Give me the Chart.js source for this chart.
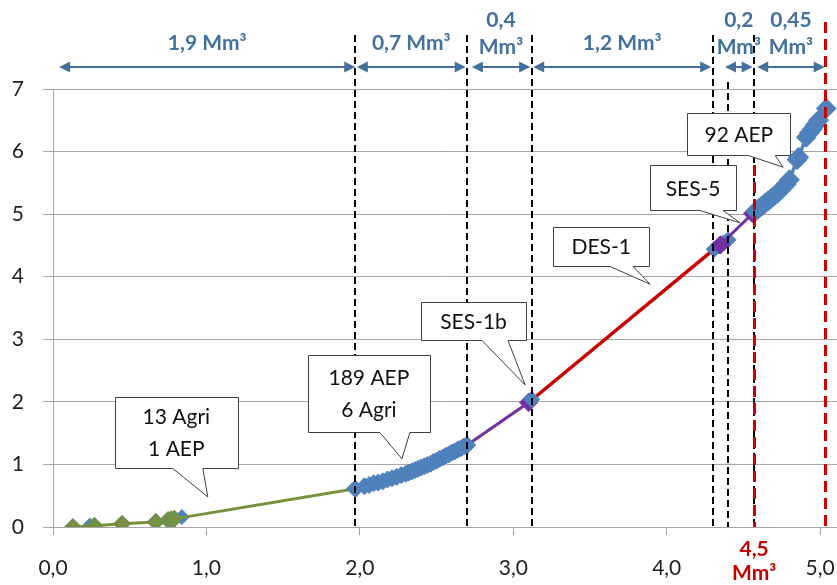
<!DOCTYPE html>
<html>
<head>
<meta charset="utf-8">
<script src="https://cdn.jsdelivr.net/npm/chart.js@4.4.1/dist/chart.umd.min.js"></script>
<style>
  html, body { margin: 0; padding: 0; background: #fff; }
  #wrap { width: 837px; height: 585px; }
</style>
</head>
<body>
<div id="wrap"><canvas id="myChart" width="837" height="585"></canvas></div>
<script>
// x = cumulative volume (Mm³), y = value
const agriX = [0.13, 0.27, 0.45, 0.67, 0.75, 0.77, 0.79, 1.97];
const agriY = [0.00, 0.02, 0.05, 0.08, 0.11, 0.12, 0.13, 0.61];

const aepLowX = [0.24, 0.84];
const aepLowY = [0.02, 0.16];

const aepMidX = [1.97, 2.03, 2.06, 2.09, 2.12, 2.15, 2.18, 2.21, 2.24, 2.27, 2.30, 2.32, 2.34, 2.36, 2.38, 2.40,
                 2.42, 2.44, 2.46, 2.48, 2.50, 2.52, 2.54, 2.56, 2.58, 2.60, 2.62, 2.64, 2.66, 2.68, 2.70];
const aepMidY = [0.61, 0.65, 0.67, 0.70, 0.71, 0.73, 0.76, 0.78, 0.80, 0.83, 0.85, 0.87, 0.89, 0.91, 0.93, 0.95,
                 0.97, 0.99, 1.01, 1.04, 1.06, 1.09, 1.11, 1.14, 1.16, 1.19, 1.21, 1.24, 1.26, 1.29, 1.31];

const aepJoinX = [3.12];
const aepJoinY = [2.04];
const aepSes5X = [4.31, 4.34, 4.37, 4.40];
const aepSes5Y = [4.44, 4.49, 4.54, 4.59];

const aepHighX = [4.58, 4.60, 4.62, 4.64, 4.66, 4.68, 4.70, 4.72, 4.74, 4.76, 4.78, 4.80, 4.85, 4.86,
                  4.91, 4.93, 4.95, 4.97, 4.99, 5.04];
const aepHighY = [5.05, 5.09, 5.13, 5.17, 5.21, 5.25, 5.29, 5.33, 5.38, 5.43, 5.48, 5.55, 5.87, 5.91,
                  6.23, 6.30, 6.36, 6.43, 6.50, 6.69];

const sesLowX = [2.70, 3.10];
const sesLowY = [1.31, 1.99];
const sesHighX = [4.30, 4.35, 4.56];
const sesHighY = [4.42, 4.51, 5.01];

const desX = [3.12, 4.30];
const desY = [2.03, 4.42];

const xTicks = [0, 1, 2, 3, 4, 5];
const yTicks = [0, 1, 2, 3, 4, 5, 6, 7];

// zone boundaries (x) and how far above the plot top each dashed line starts (px)
const blackCuts = [[1.97, -54], [2.70, -54], [3.12, -54], [4.30, -54], [4.40, -7], [4.57, -54]];
const redCuts = [[4.57, 76], [5.03, -67]];

const spans = [
  { from: 0.04, to: 1.97, lines: ['1,9 Mm³'] },
  { from: 1.98, to: 2.69, lines: ['0,7 Mm³'] },
  { from: 2.73, to: 3.11, lines: ['0,4', 'Mm³'] },
  { from: 3.13, to: 4.29, lines: ['1,2 Mm³'] },
  { from: 4.38, to: 4.56, lines: ['0,2', 'Mm³'] },
  { from: 4.59, to: 5.03, lines: ['0,45', 'Mm³'] }
];

const callouts = [
  { lines: ['13 Agri', '1 AEP'], x: 0.804, y: 1.51, w: 123, h: 71, base: [-3.5, 26.5], tipX: 1.009, tipY: 0.48 },
  { lines: ['189 AEP', '6 Agri'], x: 2.059, y: 2.13, w: 122, h: 77, base: [11, 41], tipX: 2.274, tipY: 1.09 },
  { lines: ['SES-1b'], x: 2.741, y: 3.29, w: 105, h: 38, base: [8.5, 34.5], tipX: 3.077, tipY: 2.27 },
  { lines: ['DES-1'], x: 3.573, y: 4.48, w: 96, h: 39, base: [9, 32], tipX: 3.892, tipY: 3.88 },
  { lines: ['SES-5'], x: 4.172, y: 5.42, w: 86, h: 45, base: [7, 30], tipX: 4.479, tipY: 4.86 },
  { lines: ['92 AEP'], x: 4.470, y: 6.28, w: 103, h: 42, base: [9.5, 36.5], tipX: 4.759, tipY: 5.75 }
];

const GREEN = '#77933C', BLUE = '#4F81BD', PURPLE = '#7030A0', RED = '#CC0000';
const DIM = '#41719C';

const toPoints = (xs, ys) => xs.map((x, i) => ({ x: x, y: ys[i] }));

Chart.defaults.font.family = 'Lato';

const overlay = {
  id: 'overlay',
  afterDraw(chart) {
    const ctx = chart.ctx;
    const sx = chart.scales.x, sy = chart.scales.y;
    const top = chart.chartArea.top, bottom = chart.chartArea.bottom;
    ctx.save();

    // vertical zone boundaries
    ctx.lineWidth = 2;
    ctx.strokeStyle = '#000';
    ctx.setLineDash([7, 4]);
    blackCuts.forEach(([v, off]) => {
      const px = Math.round(sx.getPixelForValue(v));
      ctx.beginPath();
      ctx.moveTo(px, top + off);
      ctx.lineTo(px, bottom);
      ctx.stroke();
    });
    ctx.lineWidth = 3;
    ctx.strokeStyle = RED;
    ctx.setLineDash([11, 6]);
    redCuts.forEach(([v, off]) => {
      const px = Math.round(sx.getPixelForValue(v)) + 0.5;
      ctx.beginPath();
      ctx.moveTo(px, top + off);
      ctx.lineTo(px, bottom);
      ctx.stroke();
    });
    ctx.setLineDash([]);

    // callout boxes
    ctx.font = '21px Lato';
    ctx.textAlign = 'center';
    ctx.textBaseline = 'middle';
    callouts.forEach(c => {
      const cx = sx.getPixelForValue(c.x), cy = sy.getPixelForValue(c.y);
      const l = Math.round(cx - c.w / 2) + 0.5, t = Math.round(cy - c.h / 2) + 0.5;
      const r = l + c.w, b = t + c.h;
      const tx = sx.getPixelForValue(c.tipX), ty = sy.getPixelForValue(c.tipY);
      ctx.beginPath();
      ctx.moveTo(l, t);
      ctx.lineTo(r, t);
      ctx.lineTo(r, b);
      ctx.lineTo(cx + c.base[1], b);
      ctx.lineTo(tx, ty);
      ctx.lineTo(cx + c.base[0], b);
      ctx.lineTo(l, b);
      ctx.closePath();
      ctx.fillStyle = '#fff';
      ctx.fill();
      ctx.lineWidth = 1;
      ctx.strokeStyle = '#404040';
      ctx.stroke();
      ctx.fillStyle = '#111';
      if (c.lines.length === 1) {
        ctx.fillText(c.lines[0], cx, cy + 1);
      } else {
        ctx.fillText(c.lines[0], cx, cy - 15);
        ctx.fillText(c.lines[1], cx, cy + 17);
      }
    });

    // volume spans above the plot
    const ay = top - 22;
    ctx.strokeStyle = DIM;
    ctx.fillStyle = DIM;
    ctx.lineWidth = 2;
    ctx.font = 'bold 21px Lato';
    spans.forEach(s => {
      const x1 = sx.getPixelForValue(s.from), x2 = sx.getPixelForValue(s.to);
      ctx.beginPath();
      ctx.moveTo(x1 + 8, ay);
      ctx.lineTo(x2 - 8, ay);
      ctx.stroke();
      ctx.beginPath();
      ctx.moveTo(x1, ay); ctx.lineTo(x1 + 11, ay - 5.5); ctx.lineTo(x1 + 11, ay + 5.5); ctx.closePath();
      ctx.moveTo(x2, ay); ctx.lineTo(x2 - 11, ay - 5.5); ctx.lineTo(x2 - 11, ay + 5.5); ctx.closePath();
      ctx.fill();
      const mid = (x1 + x2) / 2;
      if (s.lines.length === 1) {
        ctx.fillText(s.lines[0], mid, top - 46);
      } else {
        ctx.fillText(s.lines[0], mid, top - 69);
        ctx.fillText(s.lines[1], mid, top - 42);
      }
    });

    // 4,5 Mm³ marker under the axis
    const rx = sx.getPixelForValue(redCuts[0][0]);
    ctx.fillStyle = '#C00000';
    ctx.fillText('4,5', rx, bottom + 22);
    ctx.fillText('Mm³', rx, bottom + 46);

    ctx.restore();
  }
};

const diamond = (data, radius, order) => ({
  label: 'AEP', data: data, showLine: false, order: order,
  backgroundColor: BLUE, borderColor: BLUE, pointStyle: 'rectRot', pointRadius: radius
});

const ctx = document.getElementById('myChart').getContext('2d');
const chart = new Chart(ctx, {
  type: 'scatter',
  data: {
    datasets: [
      {
        label: 'AEP', data: toPoints(aepHighX, aepHighY), showLine: true, order: 0,
        borderColor: BLUE, borderWidth: 3.5, backgroundColor: BLUE,
        pointStyle: 'rectRot', pointRadius: 8
      },
      diamond(toPoints(aepJoinX, aepJoinY), 8, 0),
      {
        label: 'SES', data: toPoints(sesHighX, sesHighY), showLine: true, order: 1,
        borderColor: PURPLE, borderWidth: 3, backgroundColor: PURPLE,
        pointStyle: 'rectRot', pointRadius: [0, 7.5, 7.5], pointBorderColor: PURPLE
      },
      diamond(toPoints(aepMidX, aepMidY), 8.5, 2),
      diamond(toPoints(aepSes5X, aepSes5Y), 8, 2),
      {
        label: 'SES', data: toPoints(sesLowX, sesLowY), showLine: true, order: 3,
        borderColor: PURPLE, borderWidth: 3, backgroundColor: PURPLE,
        pointStyle: 'rectRot', pointRadius: [0, 7.5], pointBorderColor: PURPLE
      },
      {
        label: 'DES', data: toPoints(desX, desY), showLine: true, order: 3,
        borderColor: RED, borderWidth: 3.5, pointRadius: 0
      },
      {
        label: 'Agri', data: toPoints(agriX, agriY), showLine: true, order: 4,
        borderColor: GREEN, borderWidth: 3, backgroundColor: GREEN,
        pointStyle: 'rectRot', pointRadius: 7, pointBorderColor: '#6f8f4a'
      },
      diamond(toPoints(aepLowX, aepLowY), 7.5, 5)
    ]
  },
  options: {
    responsive: false,
    animation: false,
    devicePixelRatio: 1,
    layout: { autoPadding: false, padding: { top: 89, right: 0, left: 0, bottom: 0 } },
    plugins: { legend: { display: false }, tooltip: { enabled: false } },
    scales: {
      x: {
        type: 'linear', min: 0, max: 5.11,
        afterFit(scale) {
          // let the plot run to the right edge of the canvas
          scale.height = 58;
          scale.paddingRight = 0;
        },
        afterBuildTicks(scale) { scale.ticks = xTicks.map(v => ({ value: v })); },
        ticks: {
          padding: 21, color: '#1f1f1f', font: { size: 21 },
          callback: v => v.toFixed(1).replace('.', ',')
        },
        grid: { drawOnChartArea: false, tickLength: 8, color: '#a6a6a6' },
        border: { color: '#a6a6a6' }
      },
      y: {
        min: 0, max: 7,
        afterFit(scale) { scale.width = 53; },
        afterBuildTicks(scale) { scale.ticks = yTicks.map(v => ({ value: v })); },
        ticks: { padding: 19, color: '#1f1f1f', font: { size: 21 } },
        grid: { tickLength: 10, color: '#a6a6a6' },
        border: { color: '#a6a6a6' }
      }
    }
  },
  plugins: [overlay]
});
</script>
</body>
</html>
